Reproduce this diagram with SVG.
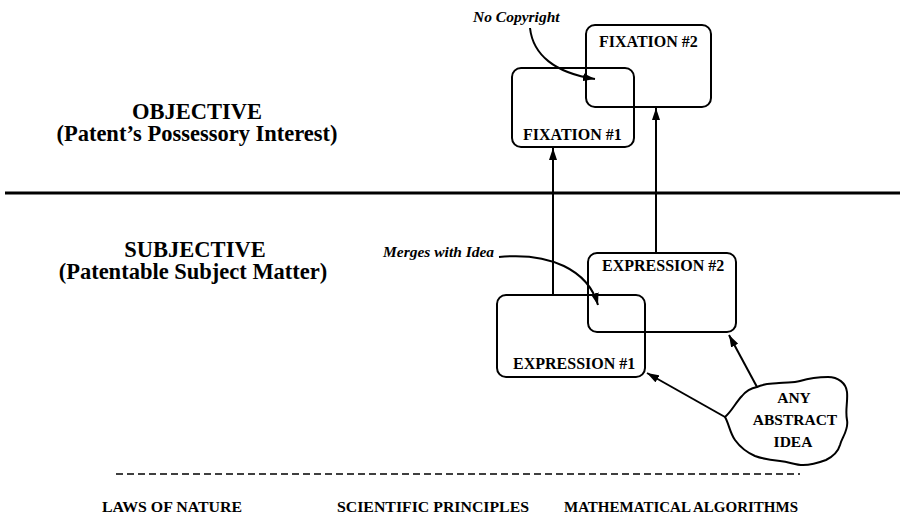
<svg xmlns="http://www.w3.org/2000/svg" width="900" height="518" viewBox="0 0 900 518">
<style>
.box{fill:none;stroke:#000;stroke-width:2}
.ln{fill:none;stroke:#000;stroke-width:2}
.hd{font-family:"Liberation Serif","Times New Roman",serif;font-weight:bold;font-size:22.5px;fill:#000}
.bt{font-family:"Liberation Serif","Times New Roman",serif;font-weight:bold;font-size:16px;fill:#000}
.it{font-family:"Liberation Serif","Times New Roman",serif;font-weight:bold;font-style:italic;font-size:15.5px;fill:#000}
.ft{font-family:"Liberation Serif","Times New Roman",serif;font-weight:bold;font-size:15.5px;fill:#000}
.bl{font-family:"Liberation Serif","Times New Roman",serif;font-weight:bold;font-size:15px;fill:#000}
</style>
<defs>
<marker id="ah" viewBox="0 0 12 8" refX="12" refY="4" markerWidth="12" markerHeight="8" markerUnits="userSpaceOnUse" orient="auto">
<path d="M0,0 L12,4 L0,8 Z" fill="#000"/>
</marker>
</defs>
<rect width="900" height="518" fill="#fff"/>
<g id="labels">
<text class="hd" x="197" y="119" text-anchor="middle">OBJECTIVE</text>
<text class="hd" x="197" y="141" text-anchor="middle">(Patent’s Possessory Interest)</text>
<text class="hd" x="195" y="257" text-anchor="middle">SUBJECTIVE</text>
<text class="hd" x="193" y="279" text-anchor="middle">(Patentable Subject Matter)</text>
<text class="bl" x="102" y="512" textLength="140" lengthAdjust="spacingAndGlyphs">LAWS OF NATURE</text>
<text class="bl" x="337" y="512" textLength="192" lengthAdjust="spacingAndGlyphs">SCIENTIFIC PRINCIPLES</text>
<text class="bl" x="564" y="512" textLength="234" lengthAdjust="spacingAndGlyphs">MATHEMATICAL ALGORITHMS</text>
<text class="it" x="473" y="22">No Copyright</text>
<text class="it" x="383" y="257">Merges with Idea</text>
</g>
<g id="dividers">
<line x1="5" y1="193" x2="900" y2="193" stroke="#000" stroke-width="3"/>
<line x1="116" y1="474" x2="800" y2="474" stroke="#000" stroke-width="1.6" stroke-dasharray="7 4"/>
</g>
<g id="fixation2">
<rect class="box" x="586" y="25" width="125" height="82" rx="9"/>
<text class="bt" x="599" y="47">FIXATION #2</text>
</g>
<g id="fixation1">
<rect class="box" x="512" y="68" width="122" height="79" rx="9"/>
<text class="bt" x="523" y="140">FIXATION #1</text>
</g>
<g id="expression2">
<rect class="box" x="588" y="253" width="148" height="79" rx="9"/>
<text class="bt" x="602" y="271">EXPRESSION #2</text>
</g>
<g id="expression1">
<rect class="box" x="497" y="295" width="148" height="82" rx="9"/>
<text class="bt" x="513" y="369">EXPRESSION #1</text>
</g>
<g id="idea">
<path class="ln" d="M725,417 C732,411 736,402 742,396 C746,391 752,388 757,387 C765,383 772,384 779,383 C788,382 793,383 800,381 C810,378 818,377 828,377 C838,377 846,383 847,392 C848,402 845,410 847,420 C849,430 842,437 840,445 C838,452 834,456 826,460 C818,463 812,465 803,465 C795,465 790,462 780,461 C770,460 763,459 755,456 C746,452 740,447 735,440 C730,433 729,424 725,417 Z"/>
<text class="ft" x="794" y="403" text-anchor="middle">ANY</text>
<text class="ft" x="795" y="425" text-anchor="middle">ABSTRACT</text>
<text class="ft" x="793" y="447" text-anchor="middle">IDEA</text>
</g>
<g id="connectors">
<line class="ln" x1="553" y1="295" x2="553" y2="148" marker-end="url(#ah)"/>
<line class="ln" x1="656" y1="253" x2="656" y2="108" marker-end="url(#ah)"/>
<line class="ln" x1="725" y1="417" x2="647" y2="373" marker-end="url(#ah)"/>
<line class="ln" x1="757" y1="387" x2="729" y2="335" marker-end="url(#ah)"/>
<path class="ln" d="M530,28 C533,55 555,73 595,79" marker-end="url(#ah)"/>
<path class="ln" d="M499,257 C550,252 588,270 598,305" marker-end="url(#ah)"/>
</g>
</svg>
